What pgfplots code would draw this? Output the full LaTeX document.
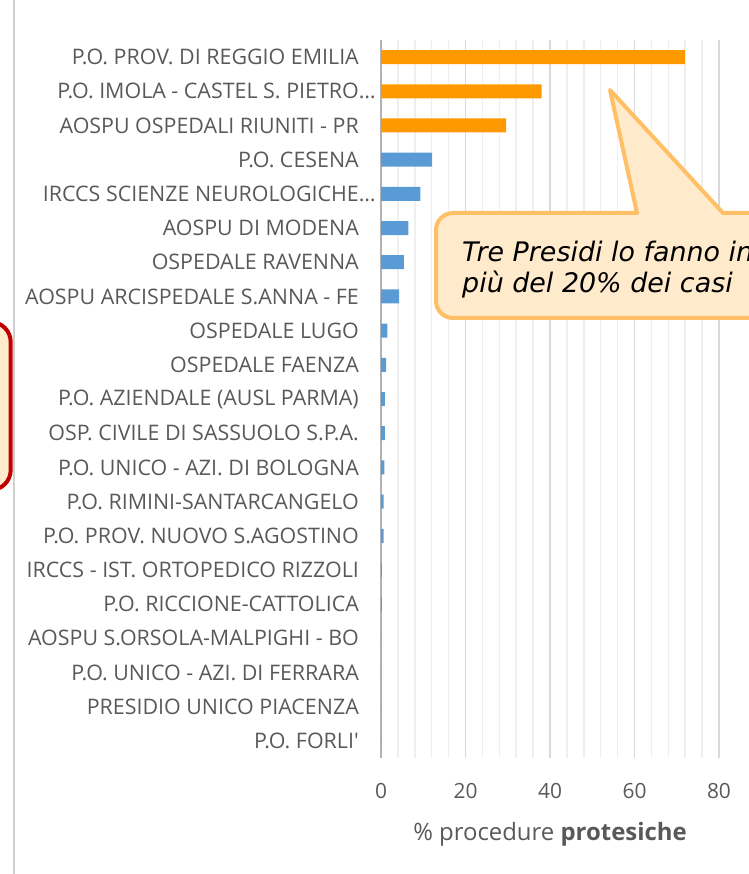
\documentclass[border=0pt]{standalone}
\usepackage{fontspec}
\setmainfont{Open Sans}
\newfontfamily\rawfont{Open Sans}[Ligatures=TeXOff]
\newfontfamily\callfont{DejaVu Sans}
\usepackage{pgfplots}
\pgfplotsset{compat=1.18}
\definecolor{lab}{HTML}{595959}
\definecolor{barO}{HTML}{FF9900}
\definecolor{barB}{HTML}{5B9BD5}
\definecolor{gmaj}{HTML}{D9D9D9}
\definecolor{gmin}{HTML}{EFEFEF}
\definecolor{callF}{HTML}{FFEBCC}
\definecolor{callD}{HTML}{FFBF66}
\definecolor{redD}{HTML}{C00000}
\definecolor{frameG}{HTML}{D0D0D0}
\begin{document}
\begin{tikzpicture}
\begin{axis}[
  at={(381bp,116bp)}, anchor=south west,
  width=338bp, height=718bp, scale only axis,
  xmin=0, xmax=80, ymin=-0.5, ymax=20.5, y dir=reverse,
  xbar, bar width=14bp, bar shift=0pt,
  axis line style={draw=none},
  major tick length=0pt, minor tick length=0pt,
  xtick={0,20,40,60,80},
  minor xtick={4,8,12,16,24,28,32,36,44,48,52,56,64,68,72,76},
  xmajorgrids, xminorgrids,
  major grid style={draw=gmaj, line width=1.5bp},
  minor grid style={draw=gmin, line width=1.5bp},
  extra x ticks={0}, extra x tick labels={},
  extra x tick style={major grid style={draw=black!30, line width=1.5bp}},
  ytick={0,...,20},
  yticklabels={P.O. PROV. DI REGGIO EMILIA, P.O. IMOLA - CASTEL S. PIETRO\rlap{…}, AOSPU OSPEDALI RIUNITI - PR, P.O. CESENA, IRCCS SCIENZE NEUROLOGICHE\rlap{…}, AOSPU DI MODENA, OSPEDALE RAVENNA, AOSPU ARCISPEDALE S.ANNA - FE, OSPEDALE LUGO, OSPEDALE FAENZA, P.O. AZIENDALE (AUSL PARMA), OSP. CIVILE DI SASSUOLO S.P.A., P.O. UNICO - AZI. DI BOLOGNA, P.O. RIMINI-SANTARCANGELO, P.O. PROV. NUOVO S.AGOSTINO, IRCCS - IST. ORTOPEDICO RIZZOLI, P.O. RICCIONE-CATTOLICA, AOSPU S.ORSOLA-MALPIGHI - BO, P.O. UNICO - AZI. DI FERRARA, PRESIDIO UNICO PIACENZA, P.O. FORLI{\rawfont'}},
  yticklabel style={font=\fontsize{21.5}{24}\selectfont, text=lab, inner sep=0pt, anchor=east, xshift=-22bp},
  xticklabel style={font=\fontsize{21}{24}\selectfont, text=lab, inner sep=0pt, anchor=north, yshift=-25bp},
  /pgf/number format/assume math mode=true,
  xlabel={\% procedure \textbf{protesiche}},
  xlabel style={font=\fontsize{24}{28}\selectfont, text=lab, inner sep=0pt, at={(axis description cs:0.5,0)}, anchor=base, yshift=-82bp},
  clip=false,
]
\addplot[fill=barO, draw=none] coordinates {(71.9,0) (38.0,1) (29.6,2)};
\addplot[fill=barB, draw=none] coordinates {(12.1,3) (9.3,4) (6.5,5) (5.4,6) (4.3,7) (1.5,8) (1.2,9) (0.9,10) (0.9,11) (0.8,12) (0.6,13) (0.6,14) (0.2,15) (0.2,16) (0,17) (0,18) (0,19) (0,20)};
\end{axis}
% frame line
\draw[frameG, line width=2bp] (14.3bp,-5bp) -- (14.3bp,880bp);
% red box (partially cropped)
\draw[redD, fill=callF, line width=4bp, rounded corners=20bp] (-40bp,552bp) rectangle (10.7bp,384bp);
% callout
\draw[callD, fill=callF, line width=4bp, line join=round]
  (436bp,609bp) -- (436bp,644bp) arc[start angle=180, end angle=90, radius=17bp]
  -- (637bp,661bp) -- (610bp,784bp) -- (723bp,661bp) -- (840bp,661bp) -- (840bp,556bp)
  -- (453bp,556bp) arc[start angle=270, end angle=180, radius=17bp] -- cycle;
\node[anchor=base west, inner sep=0pt, font=\callfont\itshape\fontsize{27}{30}\selectfont] at (462bp,612bp) {Tre Presidi lo fanno in};
\node[anchor=base west, inner sep=0pt, font=\callfont\itshape\fontsize{27}{30}\selectfont] at (462bp,581bp) {più del 20\% dei casi};
\pgfresetboundingbox
\useasboundingbox (0,0) rectangle (749bp,874bp);
\end{tikzpicture}
\end{document}
